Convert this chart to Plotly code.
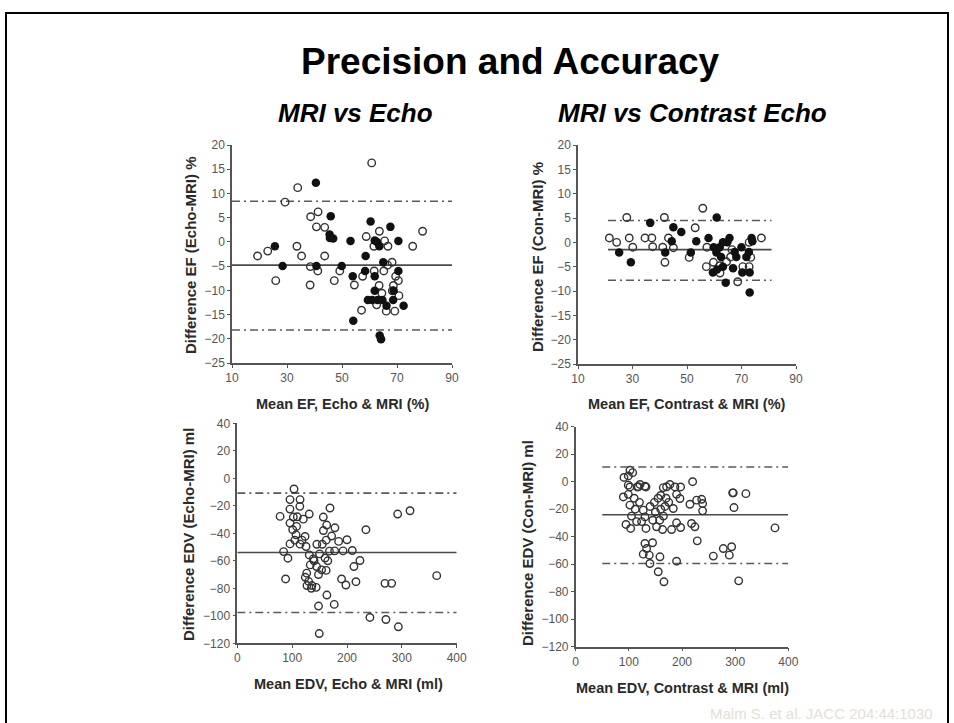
import plotly.graph_objects as go

W, H = 954, 723

# ---------------- data ----------------
# Top-left: MRI vs Echo, EF (open = one group, filled = other group)
tl_open_x = [19.3, 23.0, 25.9, 29.3, 33.9, 33.6, 35.3, 38.6, 41.3, 40.7, 43.7, 38.5, 41.2, 38.4,
             43.7, 47.2, 49.2, 54.5, 57.1, 57.5, 58.8, 60.8, 63.6, 61.6, 65.5, 66.7, 61.7, 65.2,
             66.6, 68.2, 69.5, 70.5, 68.7, 63.5, 70.7, 68.3, 66.1, 69.2, 75.7, 79.3, 64.5, 62.6]
tl_open_y = [-2.9, -1.9, -8.0, 8.2, 11.2, -0.9, -2.9, 5.2, 6.2, 3.1, 3.0, -5.1, -6.0, -8.9,
             -2.9, -8.0, -6.0, -8.9, -14.1, -7.1, 1.1, 16.3, 2.2, -0.9, 0.2, -0.9, -6.0, -6.0,
             -4.8, -4.2, -7.1, -8.0, -9.0, -9.0, -11.1, -10.1, -14.3, -14.3, -0.9, 2.2, -10.6, -13.0]
tl_filled_x = [25.6, 28.4, 40.5, 40.7, 45.9, 45.5, 45.6, 46.8, 49.9, 53.1, 53.9, 54.1, 58.4,
               58.6, 60.4, 59.4, 61.0, 62.9, 64.7, 61.9, 61.9, 62.7, 63.6, 61.9, 65.0, 67.6,
               70.5, 70.5, 66.2, 68.6, 68.8, 72.4, 63.7, 64.2]
tl_filled_y = [-0.9, -5.0, 12.2, -5.0, 5.3, 1.5, 0.8, 0.7, -5.0, 0.2, -7.1, -16.3, -6.0,
               -2.9, 4.2, -12.0, -12.0, -12.0, -12.0, -7.1, -10.1, 0.0, -0.9, 0.3, -4.2, 3.1,
               0.2, -6.0, -13.2, -12.0, -10.1, -13.2, -19.3, -20.1]

# Top-right: MRI vs Contrast Echo, EF
tr_open_x = [21.5, 24.2, 27.9, 28.8, 30.1, 34.6, 37.1, 37.4, 41.1, 41.7, 41.9, 43.2, 45.0, 50.8,
             53.0, 55.8, 57.1, 57.3, 59.7, 62.1, 64.5, 66.0, 68.6, 70.5, 72.8, 73.4, 72.8, 77.3,
             62.0, 66.5]
tr_open_y = [0.9, 0.0, 5.1, 0.9, -1.0, 0.9, 0.9, -0.9, -1.0, 5.1, -4.1, 0.9, -1.1, -3.1,
             3.0, 7.0, -5.0, -1.0, -4.1, -6.3, -4.0, -3.0, -8.1, -5.0, -5.0, -3.1, 0.0, 0.9,
             -4.8, -1.5]
tr_filled_x = [25.1, 29.4, 36.5, 42.0, 44.4, 45.0, 47.9, 51.4, 53.4, 57.9, 60.9, 59.8, 60.8,
               62.0, 63.2, 65.6, 64.8, 59.5, 63.2, 64.2, 66.9, 68.1, 70.0, 70.3, 71.8, 72.7,
               73.0, 73.0, 73.7, 74.0, 67.5, 61.0, 62.5]
tr_filled_y = [-2.1, -4.1, 4.0, -2.1, 0.2, 3.1, 2.1, -2.1, 0.2, 0.9, 5.1, -1.0, -2.1,
               -1.0, 0.0, 0.9, 0.0, -6.2, -5.0, -8.3, -5.3, -3.0, -1.0, -6.2, -3.0, -2.0,
               -6.2, -10.3, 0.9, 0.2, -2.0, -5.6, -3.0]

# Bottom-left: MRI vs Echo, EDV
bl_x = [103.4, 96.1, 114.4, 96.0, 114.0, 78.0, 102.2, 96.1, 109.4, 120.3, 131.2, 156.8, 169.0,
        101.0, 107.1, 105.0, 96.1, 114.4, 123.5, 125.3, 84.4, 92.3, 88.1, 163.0, 157.0, 178.0,
        162.0, 172.0, 200.0, 184.8, 192.8, 177.5, 209.6, 223.6, 212.6, 216.3, 198.0, 190.1,
        234.5, 131.2, 138.5, 144.6, 133.0, 126.5, 124.0, 130.0, 136.0, 143.8, 127.0, 135.0,
        148.1, 163.3, 176.7, 149.4, 153.7, 162.0, 165.0, 168.0, 241.8, 271.0, 269.2, 281.4,
        292.4, 314.9, 293.6, 363.6, 108.0, 118.0, 145.0, 150.0, 155.0, 160.0, 140.0, 148.0]
bl_y = [-7.8, -15.5, -15.5, -22.4, -20.4, -27.7, -28.2, -32.6, -28.0, -29.7, -26.0, -28.2, -21.6,
        -37.4, -41.1, -45.0, -47.7, -47.9, -42.3, -49.6, -53.3, -58.1, -73.2, -34.0, -38.0, -36.0,
        -45.0, -42.0, -44.7, -45.9, -52.8, -52.8, -52.5, -59.8, -64.2, -75.2, -77.6, -73.2,
        -37.4, -55.7, -58.6, -64.2, -63.0, -69.0, -72.0, -75.0, -78.0, -79.3, -78.0, -80.0,
        -92.9, -84.9, -91.7, -112.9, -66.6, -67.0, -60.0, -53.0, -101.2, -102.7, -76.4, -76.4,
        -26.0, -23.6, -108.0, -70.8, -35.0, -45.0, -48.0, -55.0, -48.0, -58.0, -60.0, -70.0]

# Bottom-right: MRI vs Contrast Echo, EDV
br_x = [102.1, 107.2, 90.8, 99.0, 102.1, 115.8, 121.0, 132.2, 89.6, 99.0, 164.8, 177.3, 186.7,
        197.4, 220.0, 189.8, 237.0, 296.4, 320.2, 98.9, 117.8, 130.3, 102.0, 94.6, 103.4,
        114.6, 124.0, 130.3, 127.1, 140.0, 148.0, 155.0, 160.0, 165.0, 158.0, 132.2, 130.3,
        133.4, 127.1, 138.4, 144.6, 139.6, 155.3, 158.5, 166.0, 163.5, 152.2, 171.0, 196.1,
        183.6, 180.4, 189.8, 197.4, 189.8, 214.9, 218.0, 224.3, 227.5, 238.8, 238.8, 228.7,
        258.9, 277.7, 293.4, 289.0, 295.3, 297.8, 306.6, 375.0, 110.0, 112.0, 120.0, 105.0,
        150.0, 145.0, 168.0, 175.0, 160.0, 170.0]
br_y = [8.3, 6.6, 3.1, 4.2, -3.8, -3.8, -2.0, -3.8, -11.1, -9.2, -4.3, -2.0, -3.8,
        -3.8, 0.0, -9.2, -12.8, -8.1, -8.7, -2.5, -3.7, -3.3, -17.0, -31.1, -34.0,
        -29.0, -29.0, -25.6, -20.7, -18.0, -15.0, -12.0, -20.0, -25.0, -28.0, -34.0, -44.9,
        -48.6, -52.7, -53.4, -44.4, -59.5, -65.5, -54.6, -72.8, -34.8, -32.8, -3.7, -12.2,
        -19.5, -34.8, -29.9, -33.3, -57.8, -16.4, -30.4, -32.8, -13.4, -15.9, -21.2, -43.0,
        -54.1, -48.6, -47.3, -53.4, -8.1, -18.8, -72.1, -33.6, -12.0, -20.0, -15.0, -25.0,
        -22.0, -28.0, -18.0, -15.0, -10.0, -12.0]

# Bland-Altman lines: mean bias and limits of agreement
tl_bias, tl_upper, tl_lower, tl_span = -4.8, 8.4, -18.2, [10, 90]
tr_bias, tr_upper, tr_lower, tr_span = -1.5, 4.5, -7.8, [21, 81]
bl_bias, bl_upper, bl_lower, bl_span = -54.0, -10.8, -97.6, [0, 400]
br_bias, br_upper, br_lower, br_span = -24.0, 10.7, -59.5, [50, 400]

ef_x_ticks = [10, 30, 50, 70, 90]
ef_y_ticks = [20, 15, 10, 5, 0, -5, -10, -15, -20, -25]
edv_x_ticks = [0, 100, 200, 300, 400]
edv_y_ticks = [40, 20, 0, -20, -40, -60, -80, -100, -120]

title_text = "Precision and Accuracy"
sub_left = "MRI vs Echo"
sub_right = "MRI vs Contrast Echo"
tl_xtitle, tl_ytitle = "Mean EF, Echo & MRI (%)", "Difference EF (Echo-MRI) %"
tr_xtitle, tr_ytitle = "Mean EF, Contrast & MRI (%)", "Difference EF (Con-MRI) %"
bl_xtitle, bl_ytitle = "Mean EDV, Echo & MRI (ml)", "Difference EDV (Echo-MRI) ml"
br_xtitle, br_ytitle = "Mean EDV, Contrast & MRI (ml)", "Difference EDV (Con-MRI) ml"
footer = "Malm S. et al. JACC 204:44:1030"

# ---------------- layout helpers ----------------
def px_x(p):
    return p / W

def px_y(p):
    return 1 - p / H

FONT = "Liberation Sans, Arial, Helvetica, sans-serif"
OPEN_COL = "#333333"
FILL_COL = "#111111"
LINE_COL = "#4a4a4a"
AX_COL = "#555555"

fig = go.Figure()

panels = [
    dict(k="", xd=(232, 452), yd=(145, 363), xr=[10, 90], yr=[-25, 20],
         xt=ef_x_ticks, yt=ef_y_ticks),
    dict(k="2", xd=(578, 796), yd=(145, 364), xr=[10, 90], yr=[-25, 20],
         xt=ef_x_ticks, yt=ef_y_ticks),
    dict(k="3", xd=(237.3, 456.7), yd=(423.3, 643.3), xr=[0, 400], yr=[-120, 40],
         xt=edv_x_ticks, yt=edv_y_ticks),
    dict(k="4", xd=(575.7, 788.3), yd=(426.7, 646.7), xr=[0, 400], yr=[-120, 40],
         xt=edv_x_ticks, yt=edv_y_ticks),
]

layout_axes = {}
for p in panels:
    k = p["k"]
    layout_axes["xaxis" + k] = dict(
        domain=[px_x(p["xd"][0]), px_x(p["xd"][1])], range=p["xr"], anchor="y" + k,
        tickvals=p["xt"], ticks="outside", ticklen=3, tickwidth=1, tickcolor=AX_COL,
        showline=True, linecolor=AX_COL, linewidth=1.5, showgrid=False, zeroline=False,
        automargin=False,
        tickfont=dict(family=FONT, size=12, color="#555555"), fixedrange=True)
    layout_axes["yaxis" + k] = dict(
        domain=[px_y(p["yd"][1]), px_y(p["yd"][0])], range=p["yr"], anchor="x" + k,
        tickvals=p["yt"], ticks="outside", ticklen=3, tickwidth=1, tickcolor=AX_COL,
        showline=True, linecolor=AX_COL, linewidth=1.5, showgrid=False, zeroline=False,
        automargin=False,
        tickfont=dict(family=FONT, size=12, color="#555555"), fixedrange=True)


def add_ba_lines(k, span, bias, upper, lower):
    xa, ya = "x" + k, "y" + k
    fig.add_trace(go.Scatter(x=span, y=[bias, bias], mode="lines", xaxis=xa, yaxis=ya,
                             line=dict(color=LINE_COL, width=1.6), hoverinfo="skip"))
    for v in (upper, lower):
        fig.add_trace(go.Scatter(x=span, y=[v, v], mode="lines", xaxis=xa, yaxis=ya,
                                 line=dict(color="#5a5a5a", width=1.6, dash="8px,4px,2px,4px"),
                                 hoverinfo="skip"))


def add_open(k, xs, ys):
    fig.add_trace(go.Scatter(x=xs, y=ys, mode="markers", xaxis="x" + k, yaxis="y" + k,
                             cliponaxis=False,
                             marker=dict(symbol="circle-open", size=7.5, color=OPEN_COL,
                                         line=dict(color=OPEN_COL, width=1.4))))


def add_filled(k, xs, ys):
    fig.add_trace(go.Scatter(x=xs, y=ys, mode="markers", xaxis="x" + k, yaxis="y" + k,
                             cliponaxis=False,
                             marker=dict(symbol="circle", size=8.5, color=FILL_COL,
                                         line=dict(width=0))))


add_ba_lines("", tl_span, tl_bias, tl_upper, tl_lower)
add_open("", tl_open_x, tl_open_y)
add_filled("", tl_filled_x, tl_filled_y)

add_ba_lines("2", tr_span, tr_bias, tr_upper, tr_lower)
add_open("2", tr_open_x, tr_open_y)
add_filled("2", tr_filled_x, tr_filled_y)

add_ba_lines("3", bl_span, bl_bias, bl_upper, bl_lower)
add_open("3", bl_x, bl_y)

add_ba_lines("4", br_span, br_bias, br_upper, br_lower)
add_open("4", br_x, br_y)

annotations = []

def ann(text, x, y, size, bold=True, italic=False, color="#000000", angle=0, xanchor="center"):
    t = text
    if bold:
        t = "<b>" + t + "</b>"
    if italic:
        t = "<i>" + t + "</i>"
    annotations.append(dict(text=t, x=px_x(x), y=px_y(y), xref="paper", yref="paper",
                            showarrow=False, xanchor=xanchor, yanchor="middle", textangle=angle,
                            font=dict(family=FONT, size=size, color=color)))

ann(title_text, 511, 61, 37)
ann(sub_left, 355, 113, 26, italic=True)
ann(sub_right, 692, 113, 26, italic=True)

ann(tl_xtitle, 342, 404, 14.5, color="#2a2a2a")
ann(tr_xtitle, 687, 404, 14.5, color="#2a2a2a")
ann(bl_xtitle, 348, 684, 14.5, color="#2a2a2a")
ann(br_xtitle, 682, 688, 14.5, color="#2a2a2a")

ann(tl_ytitle, 190, 255, 15, color="#2a2a2a", angle=-90)
ann(tr_ytitle, 537, 257, 15, color="#2a2a2a", angle=-90)
ann(bl_ytitle, 188, 535, 15, color="#2a2a2a", angle=-90)
ann(br_ytitle, 527, 543, 15, color="#2a2a2a", angle=-90)

annotations.append(dict(text=footer, x=px_x(935), y=px_y(713), xref="paper", yref="paper",
                        showarrow=False, xanchor="right", yanchor="middle",
                        font=dict(family=FONT, size=15, color="#e4e0d6")))

fig.update_layout(
    width=W, height=H,
    autosize=False,
    margin=dict(l=0, r=0, t=0, b=0, pad=0, autoexpand=False),
    paper_bgcolor="white", plot_bgcolor="white",
    showlegend=False,
    annotations=annotations,
    shapes=[dict(type="rect", xref="paper", yref="paper",
                 x0=px_x(6), x1=px_x(948), y0=px_y(740), y1=px_y(13),
                 line=dict(color="black", width=2), fillcolor="rgba(0,0,0,0)", layer="above")],
    **layout_axes,
)

fig.write_html(
    "out.html",
    config={"displayModeBar": False},
    post_script="document.body.style.margin='0';document.body.style.overflow='hidden';",
)
